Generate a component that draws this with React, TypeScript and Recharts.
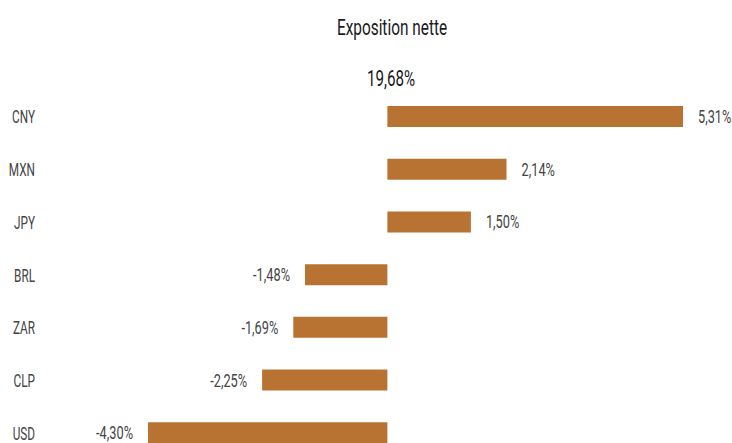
import { BarChart, Bar, XAxis, YAxis, LabelList } from 'recharts';

const currencies = ['CNY', 'MXN', 'JPY', 'BRL', 'ZAR', 'CLP', 'USD'];
const exposure = [5.31, 2.14, 1.5, -1.48, -1.69, -2.25, -4.3];
const title = 'Exposition nette';
const grossExposure = '19,68%';

// no condensed font installed, so squeeze Roboto horizontally
const FONT = 'Roboto, sans-serif';
const BAR_COLOR = '#b87333';

const data = currencies.map((code, i) => ({ code, value: exposure[i] }));

const fmt = (v: any) => `${Number(v).toFixed(2).replace('.', ',')}%`;

const NarrowText = ({ x, y, anchor = 'start', size, sx, fill, weight = 400, children }: any) => (
    <text
        transform={`translate(${x},${y}) scale(${sx},1)`}
        textAnchor={anchor}
        fill={fill}
        fontSize={size}
        fontWeight={weight}
        fontFamily={FONT}
    >
        {children}
    </text>
);

const CategoryTick = ({ y, payload }: any) => (
    <NarrowText x={35} y={y + 7} anchor="end" size={19} sx={0.62} fill="#444">
        {payload.value}
    </NarrowText>
);

const ValueLabel = (props: any) => {
    const { x, y, width, height, value } = props;
    const left = Math.min(x, x + width);
    const right = Math.max(x, x + width);
    const pos = value >= 0;
    return (
        <NarrowText
            x={pos ? right + 15 : left - 15}
            y={y + height / 2 + 6.5}
            anchor={pos ? 'start' : 'end'}
            size={18}
            sx={0.71}
            fill="#444"
        >
            {fmt(value)}
        </NarrowText>
    );
};

export default function App() {
    return (
        <div style={{ position: 'absolute', left: 0, top: 0, width: 732, height: 443, overflow: 'hidden', background: '#fff' }}>
            <BarChart
                width={732}
                height={470}
                layout="vertical"
                data={data}
                margin={{ top: 90, right: 49, bottom: 11, left: 8 }}
            >
                <XAxis type="number" hide domain={['dataMin', 'dataMax']} />
                <YAxis
                    type="category"
                    dataKey="code"
                    width={140}
                    axisLine={false}
                    tickLine={false}
                    tick={<CategoryTick />}
                />
                <Bar dataKey="value" fill={BAR_COLOR} barSize={21} isAnimationActive={false}>
                    <LabelList dataKey="value" content={<ValueLabel />} />
                </Bar>
            </BarChart>
            <svg width={732} height={100} style={{ position: 'absolute', left: 0, top: 0 }}>
                <NarrowText x={392} y={34.5} anchor="middle" size={22} sx={0.7} fill="#1a1a1a">
                    {title}
                </NarrowText>
                <NarrowText x={391} y={86} anchor="middle" size={22} sx={0.69} fill="#1a1a1a">
                    {grossExposure}
                </NarrowText>
            </svg>
        </div>
    );
}
